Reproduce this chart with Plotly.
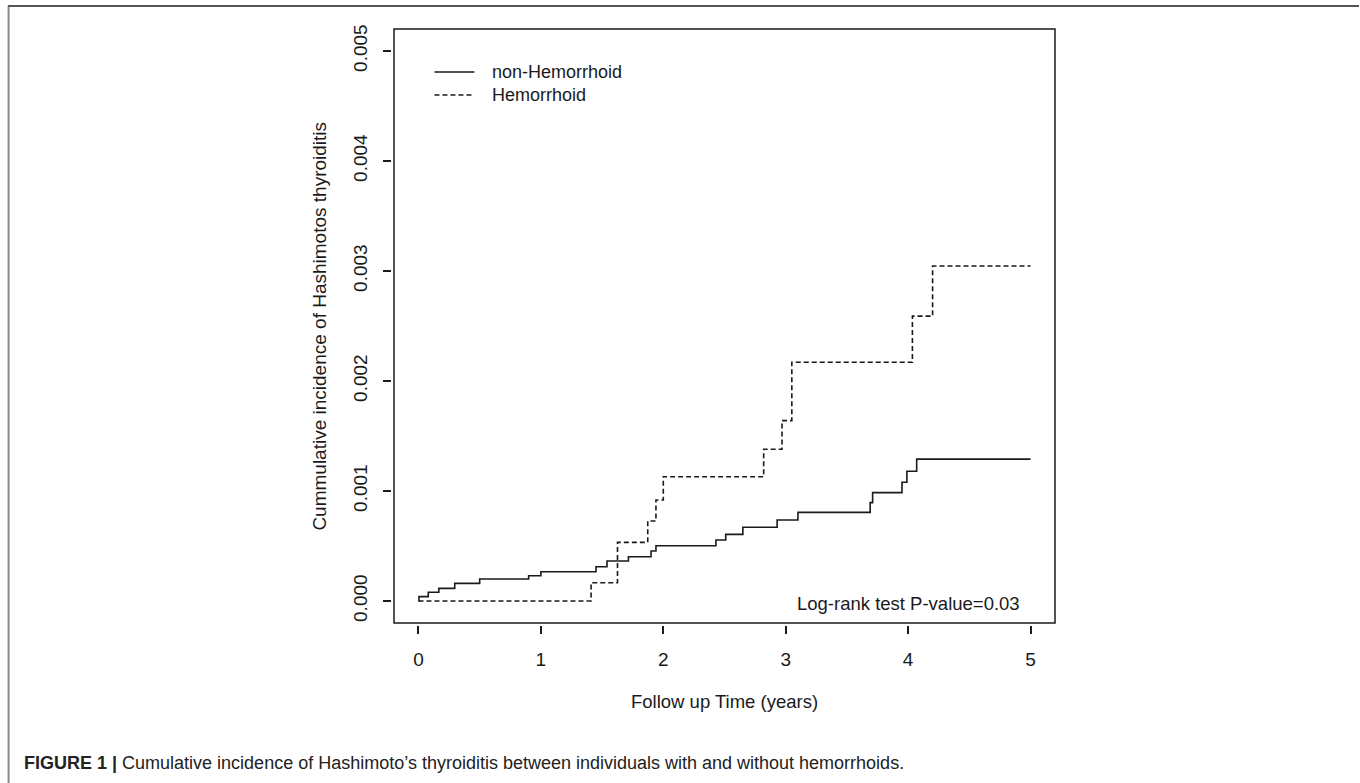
import plotly.graph_objects as go

# ---- data ----
non_hem_time = [0, 0.004, 0.08, 0.166, 0.296, 0.50, 0.90, 1.00, 1.45, 1.54, 1.715, 1.90, 1.94,
                2.43, 2.51, 2.65, 2.93, 3.10, 3.69, 3.71, 3.95, 3.99, 4.07, 5.0]
non_hem_cum = [0, 0.00004, 0.00008, 0.000115, 0.00016, 0.0002, 0.00023, 0.000266, 0.000312,
               0.000364, 0.000403, 0.000455, 0.000503, 0.000555, 0.000606, 0.00067, 0.000736,
               0.000806, 0.000894, 0.000985, 0.00108, 0.00118, 0.00129, 0.00129]
hem_time = [0, 1.41, 1.626, 1.873, 1.94, 2.00, 2.82, 2.97, 3.05, 4.035, 4.20, 5.0]
hem_cum = [0, 0.000166, 0.000533, 0.000727, 0.000918, 0.00113, 0.00138, 0.00164, 0.00217,
           0.00259, 0.003045, 0.003045]

x_ticks = [0, 1, 2, 3, 4, 5]
x_tick_labels = ["0", "1", "2", "3", "4", "5"]
y_ticks = [0.000, 0.001, 0.002, 0.003, 0.004, 0.005]
y_tick_labels = ["0.000", "0.001", "0.002", "0.003", "0.004", "0.005"]

series_names = ["non-Hemorrhoid", "Hemorrhoid"]
pvalue_text = "Log-rank test P-value=0.03"
x_title = "Follow up Time (years)"
y_title = "Cummulative incidence of Hashimotos thyroiditis"
caption_bold = "FIGURE 1 |"
caption_rest = " Cumulative incidence of Hashimoto’s thyroiditis between individuals with and without hemorrhoids."

FONT = "Liberation Sans, Arial, sans-serif"
INK = "#1a1a1a"

W, H = 1360, 783
# plot-area geometry (pixels)
L, R, T, B = 391.5, 1057.5, 27, 625
xr = [-0.2163, 5.2163]
yr = [-0.000218, 0.005218]


def px2paper_x(px):
    return (px - L) / (R - L)


def px2paper_y(py):
    return (B - py) / (B - T)


fig = go.Figure()
fig.add_trace(go.Scatter(x=non_hem_time, y=non_hem_cum, mode="lines", line_shape="hv",
                         name=series_names[0], line=dict(color=INK, width=1.6)))
fig.add_trace(go.Scatter(x=hem_time, y=hem_cum, mode="lines", line_shape="hv",
                         name=series_names[1], line=dict(color=INK, width=1.6, dash="5px,3px")))

# plot box (R style, 4% extension)
fig.add_shape(type="rect", xref="x", yref="y", x0=-0.2, x1=5.2, y0=-0.0002, y1=0.0052,
              line=dict(color=INK, width=1.5), layer="above")

# legend drawn R style
for i, (name, dash) in enumerate(zip(series_names, ["solid", "5px,3px"])):
    yy = 72 + 23 * i
    fig.add_shape(type="line", xref="paper", yref="paper",
                  x0=px2paper_x(434), x1=px2paper_x(474), y0=px2paper_y(yy), y1=px2paper_y(yy),
                  line=dict(color=INK, width=1.5, dash=dash))
    fig.add_annotation(xref="paper", yref="paper", x=px2paper_x(490), y=px2paper_y(yy),
                       text=name, showarrow=False, xanchor="left", yanchor="middle",
                       font=dict(family=FONT, size=18, color=INK))

fig.add_annotation(x=4.0, y=-0.00002, xref="x", yref="y", text=pvalue_text, showarrow=False,
                   xanchor="center", yanchor="middle", font=dict(family=FONT, size=18.5, color=INK))

# axis titles
fig.add_annotation(xref="paper", yref="paper", x=px2paper_x(724), y=px2paper_y(701),
                   text=x_title, showarrow=False, xanchor="center", yanchor="middle",
                   font=dict(family=FONT, size=18.5, color=INK))
fig.add_annotation(xref="paper", yref="paper", x=px2paper_x(318), y=px2paper_y(326),
                   text=y_title, showarrow=False, textangle=-90, xanchor="center", yanchor="middle",
                   font=dict(family=FONT, size=19, color=INK))

# caption
fig.add_annotation(xref="paper", yref="paper", x=px2paper_x(21), y=px2paper_y(763),
                   text="<b>" + caption_bold + "</b>" + caption_rest, showarrow=False,
                   xanchor="left", yanchor="middle",
                   font=dict(family=FONT, size=18, color="#222"))

# page frame
fig.add_shape(type="line", xref="paper", yref="paper", x0=px2paper_x(7.5), x1=px2paper_x(7.5),
              y0=px2paper_y(6), y1=px2paper_y(783), line=dict(color="#8a8a8a", width=2))
fig.add_shape(type="line", xref="paper", yref="paper", x0=px2paper_x(7), x1=px2paper_x(1360),
              y0=px2paper_y(6), y1=px2paper_y(6), line=dict(color="#555555", width=2))

fig.update_xaxes(range=xr, tickmode="array", tickvals=x_ticks, ticktext=x_tick_labels,
                 ticks="outside", ticklen=8, tickwidth=1.5, tickcolor=INK, showgrid=False,
                 zeroline=False, showline=False, ticklabelstandoff=9,
                 tickfont=dict(family=FONT, size=19, color=INK))
fig.update_yaxes(range=yr, tickmode="array", tickvals=y_ticks, ticktext=y_tick_labels,
                 ticks="outside", ticklen=8, tickwidth=1.5, tickcolor=INK, showgrid=False,
                 zeroline=False, showline=False, tickangle=-90, ticklabelstandoff=8,
                 tickfont=dict(family=FONT, size=19, color=INK))

fig.update_layout(width=W, height=H, autosize=False, showlegend=False,
                  paper_bgcolor="white", plot_bgcolor="white",
                  margin=dict(l=L, r=W - R, t=T, b=H - B, pad=0))

fig.write_html("out.html", config={"displayModeBar": False},
               post_script="document.body.style.margin='0';document.body.style.padding='0';")
